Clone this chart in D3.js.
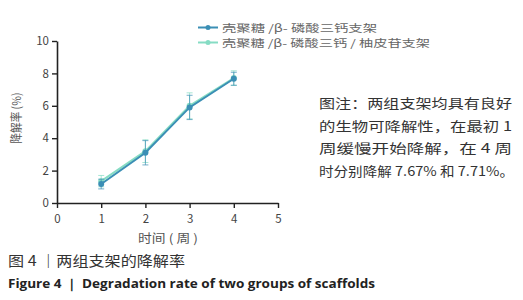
<!DOCTYPE html>
<html><head><meta charset="utf-8">
<script src="https://cdn.jsdelivr.net/npm/d3@7"></script>
<style>body{margin:0;background:#fff}svg{display:block}</style>
</head><body>
<script>
const weeks = [1, 2, 3, 4];
const seriesNames = ["壳聚糖 /β- 磷酸三钙支架", "壳聚糖 /β- 磷酸三钙 / 柚皮苷支架"];
const series1 = [1.17, 3.1, 5.9, 7.67];
const err1 = [0.3, 0.75, 0.75, 0.4];
const series2 = [1.35, 3.2, 6.0, 7.71];
const err2 = [0.35, 0.7, 0.8, 0.45];
const xTicks = [0, 1, 2, 3, 4, 5];
const yTicks = [0, 2, 4, 6, 8, 10];
const colors = ["#3b8fb5", "#86dcc4"];
const noteLines = ["图注：两组支架均具有良好", "的生物可降解性，在最初 1", "周缓慢开始降解，在 4 周", "时分别降解 7.67% 和 7.71%。"];

const W = 523, H = 300;
const svg = d3.select("body").append("svg").attr("width", W).attr("height", H);
const font = "'Noto Sans CJK SC', 'Noto Sans', sans-serif";

const x = d3.scaleLinear().domain([0, 5]).range([57, 278]);
const y = d3.scaleLinear().domain([0, 10]).range([203, 41]);

// axes
const xAxis = svg.append("g").attr("transform", `translate(0,${y(0)})`)
  .call(d3.axisBottom(x).tickValues(xTicks).tickSize(5).tickSizeOuter(0).tickFormat(d3.format("d")));
const yAxis = svg.append("g").attr("transform", `translate(${x(0)},0)`)
  .call(d3.axisLeft(y).tickValues(yTicks).tickSize(5).tickSizeOuter(0).tickFormat(d3.format("d")));
[xAxis, yAxis].forEach(g => {
  g.select(".domain").attr("stroke", "#222").attr("stroke-width", 1.6);
  g.selectAll(".tick line").attr("stroke", "#222").attr("stroke-width", 1.4);
  g.selectAll("text").attr("fill", "#444").attr("font-size", 11.5).attr("font-family", font);
});
xAxis.selectAll("text").attr("dy", "1.05em");

// axis titles
svg.append("text").attr("x", 168).attr("y", 243).attr("text-anchor", "middle")
  .attr("font-size", 12).attr("fill", "#555").attr("font-family", font)
  .attr("textLength", 60).attr("lengthAdjust", "spacingAndGlyphs").text("时间 ( 周 )");
svg.append("text").attr("transform", `translate(21,118) rotate(-90)`).attr("text-anchor", "middle")
  .attr("font-size", 12).attr("fill", "#555").attr("font-family", font)
  .attr("textLength", 51).attr("lengthAdjust", "spacingAndGlyphs").text("降解率 (%)");

// series
const data = [
  { vals: series2, errs: err2, color: colors[1] },
  { vals: series1, errs: err1, color: colors[0] }
];
const line = d3.line().x(d => x(d[0])).y(d => y(d[1]));
data.forEach(s => {
  const pts = weeks.map((w, i) => [w, s.vals[i], s.errs[i]]);
  const g = svg.append("g");
  g.selectAll("g.err").data(pts).join("g").each(function(d) {
    const e = d3.select(this);
    e.append("line").attr("x1", x(d[0])).attr("x2", x(d[0])).attr("y1", y(d[1] - d[2])).attr("y2", y(d[1] + d[2]))
      .attr("stroke", s.color).attr("stroke-width", 1).attr("opacity", 0.7);
    [d[1] - d[2], d[1] + d[2]].forEach(v => e.append("line").attr("x1", x(d[0]) - 3).attr("x2", x(d[0]) + 3)
      .attr("y1", y(v)).attr("y2", y(v)).attr("stroke", s.color).attr("stroke-width", 1).attr("opacity", 0.7));
  });
  g.append("path").datum(pts).attr("d", line).attr("fill", "none").attr("stroke", s.color).attr("stroke-width", 2);
  g.selectAll("circle").data(pts).join("circle").attr("cx", d => x(d[0])).attr("cy", d => y(d[1])).attr("r", 3)
    .attr("fill", s.color);
});

// legend
const legendLen = [155, 208];
seriesNames.forEach((n, i) => {
  const ly = 27.5 + i * 15;
  svg.append("line").attr("x1", 198).attr("x2", 218).attr("y1", ly).attr("y2", ly).attr("stroke", colors[i]).attr("stroke-width", 2);
  svg.append("circle").attr("cx", 208).attr("cy", ly).attr("r", 2.5).attr("fill", colors[i]);
  svg.append("text").attr("x", 222).attr("y", ly + 4).attr("font-size", 10.3).attr("fill", "#666")
    .attr("font-family", font).attr("textLength", legendLen[i]).attr("lengthAdjust", "spacingAndGlyphs").text(n);
});

// note
noteLines.forEach((t, i) => {
  svg.append("text").attr("x", 319).attr("y", 108 + i * 22.5).attr("font-size", 13).attr("fill", "#333")
    .attr("font-family", font).attr("textLength", i === 3 ? 195 : 193).attr("lengthAdjust", "spacingAndGlyphs").text(t);
});

// caption
svg.append("text").attr("x", 8).attr("y", 266).attr("font-size", 14).attr("fill", "#333").attr("font-family", font)
  .attr("textLength", 177).attr("lengthAdjust", "spacingAndGlyphs")
  .text("图 4 ｜两组支架的降解率");
svg.append("text").attr("x", 8).attr("y", 288).attr("font-size", 12).attr("font-weight", "bold").attr("fill", "#222")
  .attr("font-family", "'Open Sans', 'Noto Sans', sans-serif").attr("textLength", 367).attr("lengthAdjust", "spacingAndGlyphs")
  .text("Figure 4 ｜ Degradation rate of two groups of scaffolds");
</script>
</body></html>
